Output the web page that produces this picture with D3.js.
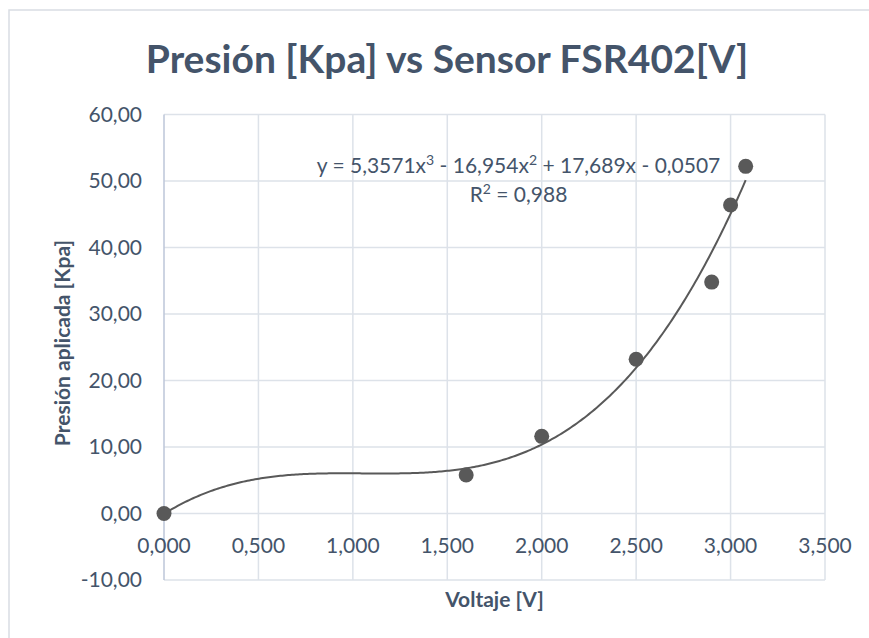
<!DOCTYPE html>
<html>
<head>
<meta charset="utf-8">
<script src="https://cdn.jsdelivr.net/npm/d3@7"></script>
<style>
  body { margin: 0; background: #fff; }
  text { font-family: Lato, "Open Sans", sans-serif; fill: #44546A; }
</style>
</head>
<body>
<div id="chart"></div>
<script>
// data
var voltage = [0, 1.6, 2.0, 2.5, 2.9, 3.0, 3.08];
var pressure = [0, 5.8, 11.6, 23.2, 34.8, 46.4, 52.2];
// polynomial trendline coefficients (x^3, x^2, x, const) as printed on chart
var trendCoef = [5.3571, -16.954, 17.689, -0.0507];
var rSquared = "0,988";
var xTicks = [0, 0.5, 1, 1.5, 2, 2.5, 3, 3.5];
var yTicks = [-10, 0, 10, 20, 30, 40, 50, 60];

var svgWidth = 869;
var svgHeight = 638;

var margin = { top: 114.5, right: 44, bottom: 58, left: 164 };
var width = svgWidth - margin.left - margin.right;
var height = svgHeight - margin.top - margin.bottom;

var locale = d3.formatLocale({
  decimal: ",",
  thousands: ".",
  grouping: [3],
  currency: ["", ""],
  minus: "-",
});
var fmtY = locale.format(".2f");
var fmtX = locale.format(".3f");

var svg = d3
  .select("#chart")
  .append("svg")
  .attr("width", svgWidth)
  .attr("height", svgHeight);

// chart frame (only top and left edges are inside the window)
svg
  .append("rect")
  .attr("x", 9)
  .attr("y", 10)
  .attr("width", 900)
  .attr("height", 700)
  .attr("fill", "none")
  .attr("stroke", "#D9DDE3")
  .attr("stroke-width", 1.5);

svg
  .append("text")
  .attr("x", 447)
  .attr("y", 73)
  .attr("text-anchor", "middle")
  .attr("font-size", "39px")
  .attr("font-weight", "bold")
  .text("Presión [Kpa] vs Sensor FSR402[V]");

var chartGroup = svg
  .append("g")
  .attr("transform", `translate(${margin.left}, ${margin.top})`);

var xScale = d3.scaleLinear().domain([0, 3.5]).range([0, width]);
var yScale = d3.scaleLinear().domain([-10, 60]).range([height, 0]);

// gridlines
chartGroup
  .append("g")
  .selectAll("line.hgrid")
  .data(yTicks)
  .enter()
  .append("line")
  .attr("class", "hgrid")
  .attr("x1", 0)
  .attr("x2", width)
  .attr("y1", (d) => yScale(d))
  .attr("y2", (d) => yScale(d))
  .attr("stroke", "#DDE2E9")
  .attr("stroke-width", 1.5);

chartGroup
  .append("g")
  .selectAll("line.vgrid")
  .data(xTicks.filter((d) => d > 0))
  .enter()
  .append("line")
  .attr("class", "vgrid")
  .attr("x1", (d) => xScale(d))
  .attr("x2", (d) => xScale(d))
  .attr("y1", 0)
  .attr("y2", height)
  .attr("stroke", "#DDE2E9")
  .attr("stroke-width", 1.5);

// vertical axis line
chartGroup
  .append("line")
  .attr("x1", xScale(0))
  .attr("x2", xScale(0))
  .attr("y1", 0)
  .attr("y2", height)
  .attr("stroke", "#BCC6D8")
  .attr("stroke-width", 1.5);

// y tick labels
chartGroup
  .append("g")
  .selectAll("text.ytick")
  .data(yTicks)
  .enter()
  .append("text")
  .attr("class", "ytick")
  .attr("x", -22)
  .attr("y", (d) => yScale(d))
  .attr("dy", "0.35em")
  .attr("text-anchor", "end")
  .attr("font-size", "21px")
  .text((d) => fmtY(d));

// x tick labels, hang under the y = 0 axis
chartGroup
  .append("g")
  .selectAll("text.xtick")
  .data(xTicks)
  .enter()
  .append("text")
  .attr("class", "xtick")
  .attr("x", (d) => xScale(d))
  .attr("y", yScale(0) + 39)
  .attr("text-anchor", "middle")
  .attr("font-size", "21px")
  .text((d) => fmtX(d));

// trendline
var poly = (x) =>
  trendCoef[0] * x * x * x + trendCoef[1] * x * x + trendCoef[2] * x + trendCoef[3];
var xs = d3.range(0, 301).map((i) => (i / 300) * d3.max(voltage));
var line = d3
  .line()
  .x((d) => xScale(d))
  .y((d) => yScale(poly(d)));

chartGroup
  .append("path")
  .datum(xs)
  .attr("d", line)
  .attr("fill", "none")
  .attr("stroke", "#595959")
  .attr("stroke-width", 2);

// points
chartGroup
  .selectAll("circle")
  .data(voltage)
  .enter()
  .append("circle")
  .attr("cx", (d) => xScale(d))
  .attr("cy", (d, i) => yScale(pressure[i]))
  .attr("r", 7.5)
  .attr("fill", "#595959");

// equation label
var eq = chartGroup
  .append("text")
  .attr("x", 518.5 - margin.left)
  .attr("y", 173 - margin.top)
  .attr("text-anchor", "middle")
  .attr("font-size", "21px");
var c = trendCoef.map((v) => locale.format("")(Math.abs(v)));
eq.append("tspan").text("y = " + c[0] + "x");
eq.append("tspan").attr("font-size", "14px").attr("dy", -8).text("3");
eq.append("tspan").attr("dy", 8).text(" - " + c[1] + "x");
eq.append("tspan").attr("font-size", "14px").attr("dy", -8).text("2");
eq.append("tspan").attr("dy", 8).text(" + " + c[2] + "x - " + c[3]);

var r2 = chartGroup
  .append("text")
  .attr("x", 518.5 - margin.left)
  .attr("y", 202 - margin.top)
  .attr("text-anchor", "middle")
  .attr("font-size", "21px");
r2.append("tspan").text("R");
r2.append("tspan").attr("font-size", "14px").attr("dy", -8).text("2");
r2.append("tspan").attr("dy", 8).text(" = " + rSquared);

// axis titles
chartGroup
  .append("text")
  .attr("x", width / 2)
  .attr("y", 607 - margin.top)
  .attr("text-anchor", "middle")
  .attr("font-size", "21px")
  .attr("font-weight", "bold")
  .text("Voltaje [V]");

chartGroup
  .append("text")
  .attr("transform", "rotate(-90)")
  .attr("x", -(343 - margin.top))
  .attr("y", 70 - margin.left)
  .attr("text-anchor", "middle")
  .attr("font-size", "21px")
  .attr("font-weight", "bold")
  .text("Presión aplicada [Kpa]");
</script>
</body>
</html>
